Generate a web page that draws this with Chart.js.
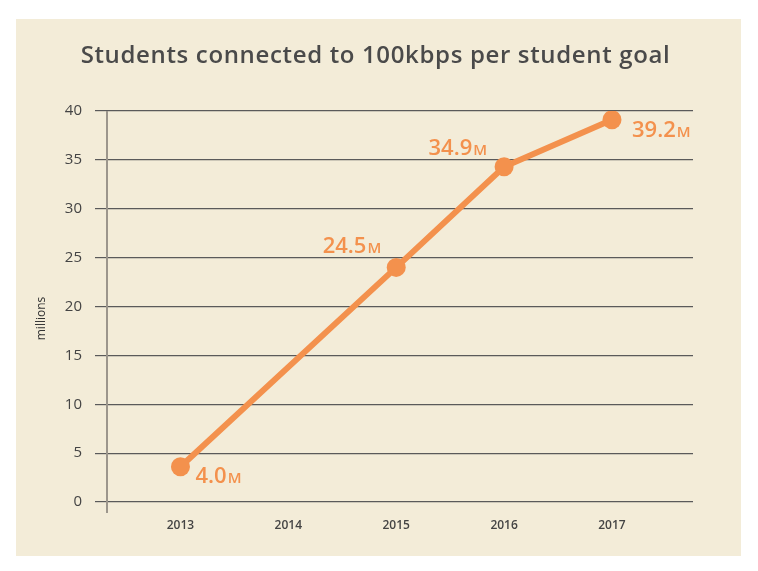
<!DOCTYPE html>
<html>
<head>
<meta charset="utf-8">
<script src="https://cdn.jsdelivr.net/npm/chart.js@4.4.1/dist/chart.umd.min.js"></script>
<style>
  html, body { margin: 0; padding: 0; background: #ffffff; }
  #panel { position: absolute; left: 16px; top: 19px; width: 725px; height: 537px; background: #f3ecd8; }
  #c { display: block; }
</style>
</head>
<body>
<div id="panel"><canvas id="c" width="725" height="537"></canvas></div>
<script>
// ---- data ----
const years = [2013, 2014, 2015, 2016, 2017];
const students = [3.6, null, 24.0, 34.3, 39.1];          // plotted values (millions)
const valueLabels = ['4.0', null, '24.5', '34.9', '39.2']; // printed labels
const unitLabel = 'M';
const yTicks = [0, 5, 10, 15, 20, 25, 30, 35, 40];
const titleText = 'Students connected to 100kbps per student goal';
const yTitle = 'millions';

// ---- styles ----
const ORANGE = '#f3914d';
const FONT = "'Open Sans', 'Noto Sans', sans-serif";
// label placement relative to the point: [dx, dy, align]
const labelPlacement = [[15, 16, 'left'], null, [-15, -14, 'right'], [-17, -12, 'right'], [20, 17, 'left']];

const points = years.map((y, i) => ({ x: y, y: students[i] }));

const decorPlugin = {
  id: 'decor',
  beforeDatasetsDraw(chart) {
    const { ctx, chartArea } = chart;
    ctx.save();
    ctx.strokeStyle = '#9c968c';
    ctx.lineWidth = 2;
    ctx.beginPath();
    ctx.moveTo(chartArea.left, chartArea.top);
    ctx.lineTo(chartArea.left, chartArea.bottom + 11);
    ctx.stroke();
    // rotated y title
    ctx.fillStyle = '#333333';
    ctx.font = "12px " + FONT;
    ctx.textAlign = 'center';
    ctx.textBaseline = 'middle';
    ctx.translate(26, (chartArea.top + chartArea.bottom) / 2 + 12);
    ctx.rotate(-Math.PI / 2);
    ctx.fillText(yTitle, 0, 0);
    ctx.restore();
  },
  afterDraw(chart) {
    const { ctx, width } = chart;
    ctx.save();
    ctx.fillStyle = '#4a4a4a';
    ctx.font = "600 24px " + FONT;
    if ('letterSpacing' in ctx) ctx.letterSpacing = '0.65px';
    ctx.textAlign = 'center';
    ctx.textBaseline = 'alphabetic';
    ctx.fillText(titleText, width / 2 - 3, 44);
    ctx.restore();
  }
};

const valueLabelPlugin = {
  id: 'valueLabels',
  afterDatasetsDraw(chart) {
    const { ctx } = chart;
    const meta = chart.getDatasetMeta(0);
    ctx.save();
    ctx.fillStyle = ORANGE;
    ctx.textBaseline = 'alphabetic';
    meta.data.forEach((pt, i) => {
      const txt = valueLabels[i];
      const pl = labelPlacement[i];
      if (!txt || !pl || students[i] == null) return;
      const bigFont = "600 22px " + FONT;
      const smallFont = "600 15px " + FONT;
      ctx.font = bigFont;
      const wBig = ctx.measureText(txt).width;
      ctx.font = smallFont;
      const wSmall = ctx.measureText(unitLabel).width + 1;
      let x0 = pt.x + pl[0];
      if (pl[2] === 'right') x0 -= (wBig + wSmall);
      const yb = pt.y + pl[1];
      ctx.textAlign = 'left';
      ctx.font = bigFont;
      ctx.fillText(txt, x0, yb);
      ctx.font = smallFont;
      ctx.fillText(unitLabel, x0 + wBig + 1, yb);
    });
    ctx.restore();
  }
};

new Chart(document.getElementById('c'), {
  type: 'line',
  data: {
    datasets: [{
      data: points,
      borderColor: ORANGE,
      backgroundColor: ORANGE,
      borderWidth: 6,
      pointRadius: 9.5,
      pointHoverRadius: 9.5,
      pointBackgroundColor: ORANGE,
      pointBorderWidth: 0,
      spanGaps: true,
      tension: 0
    }]
  },
  options: {
    responsive: false,
    animation: false,
    layout: { padding: { left: 0, right: 48, top: 92, bottom: 0 } },
    plugins: {
      legend: { display: false },
      tooltip: { enabled: false },
      title: { display: false }
    },
    scales: {
      x: {
        type: 'linear',
        min: 2012.319,
        max: 2017.751,
        afterBuildTicks: (s) => { s.ticks = years.map(v => ({ value: v })); },
        afterFit: (s) => { s.height = 54; },
        grid: { display: false },
        border: { display: false },
        ticks: {
          padding: 8,
          color: '#444444',
          font: { family: FONT, size: 12, weight: '600' },
          callback: (v) => String(v)
        }
      },
      y: {
        min: 0,
        max: 40,
        afterBuildTicks: (s) => { s.ticks = yTicks.map(v => ({ value: v })); },
        afterFit: (s) => { s.width = 91; },
        grid: { color: '#5a5a5a', lineWidth: 1.2, tickLength: 12, drawTicks: true },
        border: { display: false },
        ticks: {
          padding: 13,
          color: '#444444',
          font: { family: FONT, size: 15, weight: '500' }
        }
      }
    }
  },
  plugins: [decorPlugin, valueLabelPlugin]
});
</script>
</body>
</html>
